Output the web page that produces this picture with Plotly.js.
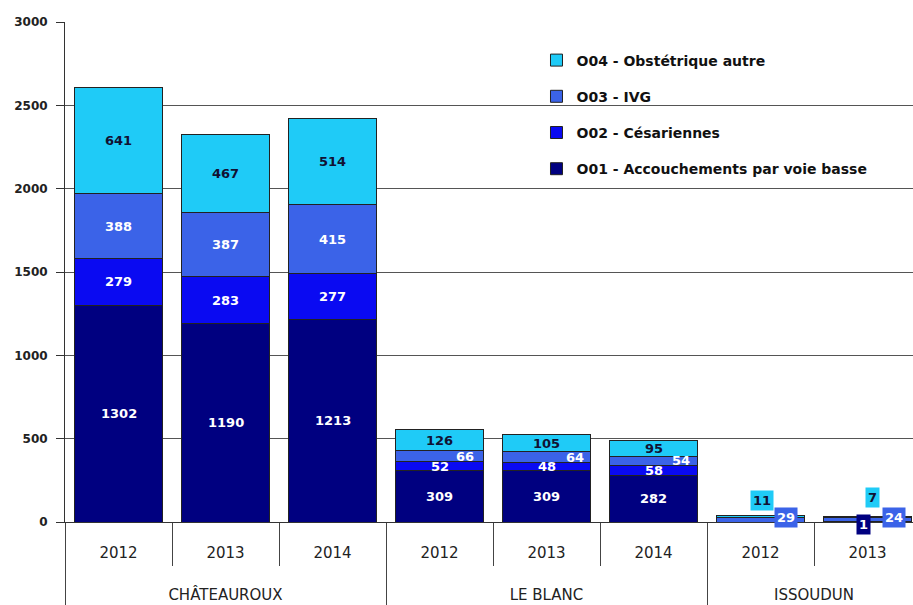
<!DOCTYPE html>
<html>
<head>
<meta charset="utf-8">
<script src="https://cdn.plot.ly/plotly-3.0.1.min.js"></script>
<style>html,body{margin:0;padding:0;background:#fff;}#chart{width:913px;height:605px;}</style>
</head>
<body>
<div id="chart"></div>
<script>
// ---- data ----
const groups = ['CHÂTEAUROUX','CHÂTEAUROUX','CHÂTEAUROUX','LE BLANC','LE BLANC','LE BLANC','ISSOUDUN','ISSOUDUN'];
const years  = ['2012','2013','2014','2012','2013','2014','2012','2013'];
const seriesNames = ['O01 - Accouchements par voie basse','O02 - Césariennes','O03 - IVG','O04 - Obstétrique autre'];
const o01 = [1302, 1190, 1213, 309, 309, 282, 0, 1];
const o02 = [279, 283, 277, 52, 48, 58, 0, 0];
const o03 = [388, 387, 415, 66, 64, 54, 29, 24];
const o04 = [641, 467, 514, 126, 105, 95, 11, 7];
const yTicks = [0, 500, 1000, 1500, 2000, 2500, 3000];

// ---- style ----
const colors = ['#000080', '#0a0af2', '#3b63e8', '#1fcbf7'];
const labelColors = ['#ffffff', '#ffffff', '#ffffff', '#111133'];
// per-label pixel offsets [xshift, yshift] (style only), keyed by series then bar index
const labelShift = [
  {7: [-4, -3]},
  {},
  {3: [25, 0], 4: [28, 0], 5: [27, 0], 6: [25, 2], 7: [26, 2]},
  {6: [1, 16], 7: [5, 20]}
];
const boxedBars = [6, 7]; // labels drawn on a coloured box
const FONT = 'DejaVu Sans, Verdana, sans-serif';

// group names are pushed two lines down (label layout only)
const groupLabels = groups.map(g => '<br><br>' + g);

const series = [o01, o02, o03, o04];
const traces = series.map((vals, s) => ({
  type: 'bar',
  name: seriesNames[s],
  x: [groupLabels, years],
  y: vals,
  legendgroup: 'g' + s,
  legendrank: series.length - s,
  marker: {color: colors[s], line: {color: '#222', width: 1}},
  hoverinfo: 'y+name'
}));

// labels centred on each segment
const annotations = [];
for (let i = 0; i < years.length; i++) {
  let base = 0;
  for (let s = 0; s < series.length; s++) {
    const v = series[s][i];
    if (v > 0) {
      const sh = labelShift[s][i] || [0, 0];
      const boxed = boxedBars.indexOf(i) >= 0;
      annotations.push({
        x: i, y: base + v / 2, xref: 'x', yref: 'y',
        text: String(v), showarrow: false,
        xshift: sh[0], yshift: sh[1],
        font: {family: FONT, size: 13, weight: 'bold', color: labelColors[s]},
        bgcolor: boxed ? colors[s] : 'rgba(0,0,0,0)',
        borderpad: boxed ? 2 : 0
      });
    }
    base += v;
  }
}

const layout = {
  width: 913, height: 605,
  margin: {l: 65, r: 0, t: 22, b: 83},
  paper_bgcolor: '#fff', plot_bgcolor: '#fff',
  barmode: 'stack', bargap: 0.17,
  showlegend: true,
  legend: {
    x: 0.556, y: 0.955, xanchor: 'left', yanchor: 'top',
    traceorder: 'grouped', tracegroupgap: 15,
    bgcolor: 'rgba(0,0,0,0)',
    font: {family: FONT, size: 14, weight: 'bold', color: '#111'}
  },
  xaxis: {
    type: 'multicategory',
    range: [-0.5, 7.425],
    showline: true, linecolor: '#333', linewidth: 1,
    ticks: 'outside', tickson: 'boundaries', ticklen: 43, tickcolor: '#444', tickwidth: 1,
    ticklabelstandoff: 17,
    showdividers: true, dividercolor: '#444', dividerwidth: 1,
    showgrid: false,
    tickfont: {family: FONT, size: 15, color: '#222'}
  },
  yaxis: {
    range: [0, 3000], tickvals: yTicks,
    showgrid: true, gridcolor: '#555', gridwidth: 1,
    zeroline: false,
    showline: true, linecolor: '#333', linewidth: 1,
    ticks: 'outside', ticklen: 8, tickcolor: '#333',
    ticklabelstandoff: 6,
    tickfont: {family: FONT, size: 12, weight: 'bold', color: '#222'}
  },
  shapes: [{
    type: 'rect', xref: 'paper', yref: 'y', layer: 'between',
    x0: 0.48, x1: 1, y0: 2150, y1: 2900,
    fillcolor: '#fff', line: {width: 0}
  }],
  annotations: annotations
};

Plotly.newPlot('chart', traces, layout, {displayModeBar: false, staticPlot: true});
</script>
</body>
</html>
